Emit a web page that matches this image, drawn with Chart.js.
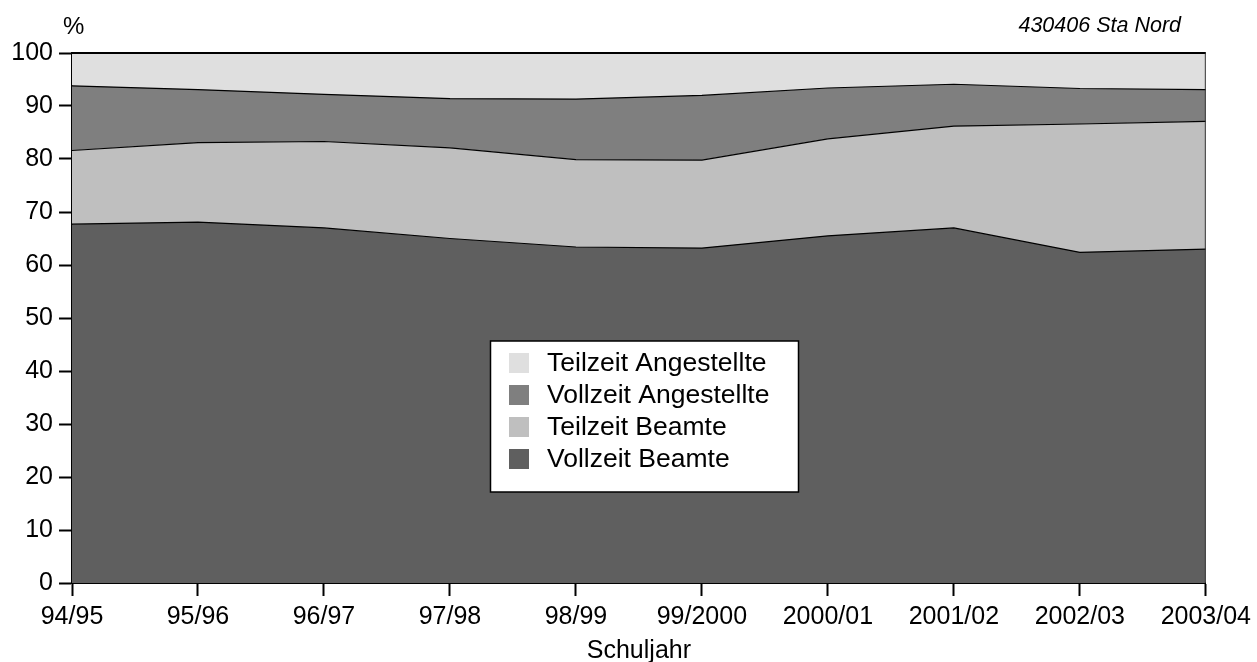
<!DOCTYPE html>
<html>
<head>
<meta charset="utf-8">
<script src="https://cdn.jsdelivr.net/npm/chart.js@4"></script>
<style>
  body { margin: 0; background: #fff; }
  canvas { display: block; }
</style>
</head>
<body>
<canvas id="chart" width="1257" height="662"></canvas>
<script>
const labels = ['94/95', '95/96', '96/97', '97/98', '98/99', '99/2000', '2000/01', '2001/02', '2002/03', '2003/04'];
const vollzeitBeamte = [67.7, 68.1, 67.0, 65.0, 63.4, 63.2, 65.5, 67.0, 62.4, 63.0];
const teilzeitBeamte = [13.9, 15.0, 16.3, 17.1, 16.5, 16.6, 18.3, 19.2, 24.2, 24.1];
const vollzeitAngestellte = [12.2, 10.0, 8.9, 9.3, 11.4, 12.2, 9.6, 7.9, 6.7, 6.0];
const teilzeitAngestellte = [6.2, 6.9, 7.8, 8.6, 8.7, 8.0, 6.6, 5.9, 6.7, 6.9];
const yTicks = [0, 10, 20, 30, 40, 50, 60, 70, 80, 90, 100];

const FONT = 'Liberation Sans, Arial, Helvetica, sans-serif';

function area(label, data, color, fill) {
    return {
        label: label,
        data: data,
        backgroundColor: color,
        borderColor: '#000',
        borderWidth: 1.2,
        pointRadius: 0,
        tension: 0,
        fill: fill,
    };
}

// frame, header texts and the boxed legend in the middle of the plot
const extras = {
    id: 'extras',
    afterDraw(chart) {
        const c = chart.ctx;
        const a = chart.chartArea;
        c.save();
        c.strokeStyle = '#000';
        c.lineWidth = 2;
        c.beginPath();
        c.moveTo(a.left, a.top);
        c.lineTo(a.right, a.top);
        c.stroke();
        c.strokeStyle = '#333';
        c.lineWidth = 1;
        c.beginPath();
        c.moveTo(a.right - 0.5, a.top);
        c.lineTo(a.right - 0.5, a.bottom);
        c.stroke();

        c.fillStyle = '#000';
        c.textBaseline = 'middle';
        c.font = '24px ' + FONT;
        c.textAlign = 'left';
        c.fillText('%', 63, 27);
        c.font = 'italic 21.5px ' + FONT;
        c.textAlign = 'right';
        c.fillText('430406 Sta Nord', 1181, 26);

        // legend
        const lx = 490.5, ly = 341, lw = 308, lh = 151;
        c.fillStyle = '#fff';
        c.fillRect(lx, ly, lw, lh);
        c.strokeStyle = '#000';
        c.lineWidth = 1.5;
        c.strokeRect(lx, ly, lw, lh);
        const ds = chart.data.datasets.slice().reverse();
        c.font = '26.5px ' + FONT;
        c.textAlign = 'left';
        ds.forEach((d, i) => {
            const cy = 363 + i * 32;
            c.fillStyle = d.backgroundColor;
            c.fillRect(509, cy - 10, 20, 20);
            c.fillStyle = '#000';
            c.fillText(d.label, 547, cy + 1);
        });
        c.restore();
    }
};

const ctx = document.getElementById('chart').getContext('2d');
const chart = new Chart(ctx, {
    type: 'line',
    data: {
        labels: labels,
        datasets: [
            area('Vollzeit Beamte', vollzeitBeamte, '#5f5f5f', 'origin'),
            area('Teilzeit Beamte', teilzeitBeamte, '#bfbfbf', '-1'),
            area('Vollzeit Angestellte', vollzeitAngestellte, '#7f7f7f', '-1'),
            area('Teilzeit Angestellte', teilzeitAngestellte, '#dfdfdf', '-1'),
        ]
    },
    options: {
        responsive: false,
        animation: false,
        layout: { padding: { left: 0, right: 50, top: 53, bottom: 0 } },
        scales: {
            x: {
                type: 'category',
                offset: false,
                afterFit: function (scale) { scale.height = 79; },
                grid: {
                    drawOnChartArea: false,
                    tickLength: 13,
                    tickWidth: 2,
                    tickColor: '#000',
                },
                border: { color: '#000', width: 2 },
                ticks: {
                    color: '#000',
                    font: { family: FONT, size: 25 },
                    maxRotation: 0,
                    autoSkip: false,
                    padding: 6,
                },
                title: {
                    display: true,
                    text: 'Schuljahr',
                    color: '#000',
                    font: { family: FONT, size: 25, lineHeight: 0.85 },
                    padding: { top: 4, bottom: 0 },
                },
            },
            y: {
                stacked: true,
                min: 0,
                max: 100,
                afterFit: function (scale) { scale.width = 72; },
                afterBuildTicks: function (scale) {
                    scale.ticks = yTicks.map(v => ({ value: v }));
                },
                grid: {
                    drawOnChartArea: false,
                    tickLength: 13,
                    tickWidth: 2,
                    tickColor: '#000',
                },
                border: { color: '#000', width: 2 },
                ticks: {
                    color: '#000',
                    font: { family: FONT, size: 25 },
                    padding: 6,
                },
            }
        },
        plugins: {
            legend: { display: false },
            tooltip: { enabled: false },
        },
    },
    plugins: [extras],
});
</script>
</body>
</html>
